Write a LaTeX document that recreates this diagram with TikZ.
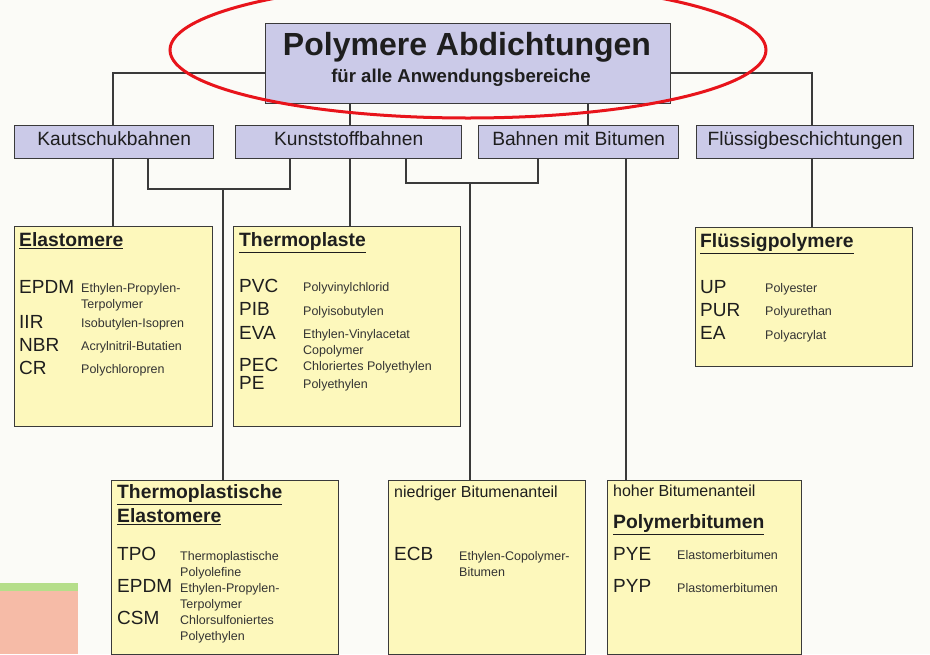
\documentclass[tikz,border=0pt]{standalone}
\usepackage{fontspec}
\setmainfont{Liberation Sans}
\definecolor{bg}{HTML}{FBFBF7}
\definecolor{lav}{HTML}{CBCAE8}
\definecolor{ylw}{HTML}{FDF8BC}
\definecolor{edge}{HTML}{3A3A3A}
\definecolor{txt}{HTML}{1E1E1E}
\definecolor{dtxt}{HTML}{333333}
\definecolor{redring}{HTML}{E8141B}
\definecolor{patchg}{HTML}{B5DE8A}
\definecolor{patchs}{HTML}{F6BBA7}
\newcommand\hul[1]{\leavevmode\vtop{\hbox{#1}\kern1.6pt\hrule height 1.2pt}}
\tikzset{
  catbox/.style={draw=edge, line width=1.4pt, fill=lav, anchor=north west, inner sep=0pt,
    text height=14pt, text depth=7pt,
    font=\fontsize{19.2}{20}\selectfont, text=txt},
  grpbox/.style={draw=edge, line width=1.4pt, fill=ylw, anchor=north west, inner sep=0pt},
  head/.style={anchor=base west, inner sep=0pt, font=\fontsize{19.3}{21}\selectfont\bfseries, text=txt},
  abbr/.style={anchor=base west, inner sep=0pt, font=\fontsize{19}{20}\selectfont, text=txt},
  desc/.style={anchor=base west, inner sep=0pt, font=\fontsize{12.5}{14}\selectfont, text=dtxt},
  note/.style={anchor=base west, inner sep=0pt, font=\fontsize{16}{18}\selectfont, text=txt},
  link/.style={draw=edge, line width=1.1pt}
}
\begin{document}
\begin{tikzpicture}[x=1pt,y=-1pt]
\useasboundingbox (0,0) rectangle (930,654);
\fill[bg] (0,0) rectangle (930,654);
% bottom-left patch
\fill[patchs] (0,590) rectangle (78,654);
\fill[patchg] (0,583) rectangle (78,591);

% title
\node[draw=edge, line width=1.4pt, fill=lav, anchor=north west, inner sep=0pt,
  minimum width=405, minimum height=80] (title) at (265,23) {};
\node[inner sep=0pt, anchor=base, font=\fontsize{32}{33}\selectfont\bfseries, text=txt] (t1) at (467,55) {Polymere Abdichtungen};
\node[inner sep=0pt, anchor=base, font=\fontsize{18.6}{20}\selectfont\bfseries, text=txt] (t2) at (461,82) {für alle Anwendungsbereiche};

% categories
\node[catbox, minimum width=199, minimum height=33] (kaut) at (14,125) {Kautschukbahnen};
\node[catbox, minimum width=226, minimum height=33] (kunst) at (235,125) {Kunststoffbahnen};
\node[catbox, minimum width=200, minimum height=33] (bit) at (478,125) {Bahnen mit Bitumen};
\node[catbox, minimum width=217, minimum height=33] (flues) at (696,125) {Flüssigbeschichtungen};

% group boxes
\node[grpbox, minimum width=198, minimum height=200] (elast) at (14,226) {};
\node[grpbox, minimum width=227, minimum height=200] (thermo) at (233,226) {};
\node[grpbox, minimum width=217, minimum height=139] (fpoly) at (695,227) {};
\node[grpbox, minimum width=227, minimum height=174] (tpe) at (111,480) {};
\node[grpbox, minimum width=197, minimum height=174] (nied) at (388,480) {};
\node[grpbox, minimum width=194, minimum height=174] (hoch) at (607,480) {};

% connectors
\coordinate (jl) at (113,73);
\coordinate (jr) at (812,73);
\draw[link] (title.west |- jl) -- (jl) -- (kaut.north -| jl);
\draw[link] (title.east |- jr) -- (jr) -- (flues.north -| jr);
\coordinate (c1) at (350,0);
\coordinate (c2) at (588,0);
\draw[link] (title.south -| c1) -- (kunst.north -| c1);
\draw[link] (title.south -| c2) -- (bit.north -| c2);
\draw[link] (kaut.south -| jl) -- (elast.north -| jl);
\draw[link] (kunst.south -| c1) -- (thermo.north -| c1);
\draw[link] (flues.south -| jr) -- (fpoly.north -| jr);
\coordinate (b1l) at (148,189);
\coordinate (b1r) at (290,189);
\coordinate (b1m) at (223,189);
\draw[link] (kaut.south -| b1l) -- (b1l) -- (b1r) -- (kunst.south -| b1r);
\draw[link] (b1m) -- (tpe.north -| b1m);
\coordinate (b2l) at (406,183);
\coordinate (b2r) at (538,183);
\coordinate (b2m) at (470,183);
\draw[link] (kunst.south -| b2l) -- (b2l) -- (b2r) -- (bit.south -| b2r);
\draw[link] (b2m) -- (nied.north -| b2m);
\coordinate (c3) at (626,0);
\draw[link] (bit.south -| c3) -- (hoch.north -| c3);

% Elastomere
\node[head] (eh) at (19,246) {\hul{Elastomere}};
\node[abbr] (ea1) at (19,293) {EPDM};
\node[desc] (ed1) at (81,292) {Ethylen-Propylen-};
\node[desc] (ed1b) at (81,308) {Terpolymer};
\node[abbr] (ea2) at (19,328) {IIR};
\node[desc] (ed2) at (81,327) {Isobutylen-Isopren};
\node[abbr] (ea3) at (19,351) {NBR};
\node[desc] (ed3) at (81,350) {Acrylnitril-Butatien};
\node[abbr] (ea4) at (19,374) {CR};
\node[desc] (ed4) at (81,373) {Polychloropren};

% Thermoplaste
\node[head] (th) at (239,246) {\hul{Thermoplaste}};
\node[abbr] (ta1) at (239,292) {PVC};
\node[desc] (td1) at (303,291) {Polyvinylchlorid};
\node[abbr] (ta2) at (239,315) {PIB};
\node[desc] (td2) at (303,315) {Polyisobutylen};
\node[abbr] (ta3) at (239,339) {EVA};
\node[desc] (td3) at (303,338) {Ethylen-Vinylacetat};
\node[desc] (td3b) at (303,354) {Copolymer};
\node[abbr] (ta4) at (239,371) {PEC};
\node[desc] (td4) at (303,370) {Chloriertes Polyethylen};
\node[abbr] (ta5) at (239,389) {PE};
\node[desc] (td5) at (303,388) {Polyethylen};

% Fluessigpolymere
\node[head] (fh) at (700,247) {\hul{Flüssigpolymere}};
\node[abbr] (fa1) at (700,293) {UP};
\node[desc] (fd1) at (765,292) {Polyester};
\node[abbr] (fa2) at (700,316) {PUR};
\node[desc] (fd2) at (765,315) {Polyurethan};
\node[abbr] (fa3) at (700,339) {EA};
\node[desc] (fd3) at (765,339) {Polyacrylat};

% Thermoplastische Elastomere
\node[head] (tph1) at (117,498) {\hul{Thermoplastische}};
\node[head] (tph2) at (117,522) {\hul{Elastomere}};
\node[abbr] (pa1) at (117,560) {TPO};
\node[desc] (pd1) at (180,560) {Thermoplastische};
\node[desc] (pd1b) at (180,576) {Polyolefine};
\node[abbr] (pa2) at (117,592) {EPDM};
\node[desc] (pd2) at (180,592) {Ethylen-Propylen-};
\node[desc] (pd2b) at (180,608) {Terpolymer};
\node[abbr] (pa3) at (117,624) {CSM};
\node[desc] (pd3) at (180,624) {Chlorsulfoniertes};
\node[desc] (pd3b) at (180,640) {Polyethylen};

% niedriger Bitumenanteil
\node[note] (nh) at (394,497) {niedriger Bitumenanteil};
\node[abbr] (na1) at (394,560) {ECB};
\node[desc] (nd1) at (459,560) {Ethylen-Copolymer-};
\node[desc] (nd1b) at (459,576) {Bitumen};

% hoher Bitumenanteil
\node[note] (hh) at (613,496) {hoher Bitumenanteil};
\node[head] (hh2) at (613,528) {\hul{Polymerbitumen}};
\node[abbr] (ha1) at (613,560) {PYE};
\node[desc] (hd1) at (677,559) {Elastomerbitumen};
\node[abbr] (ha2) at (613,592) {PYP};
\node[desc] (hd2) at (677,592) {Plastomerbitumen};

% red ring
\draw[redring, line width=3pt] (468,50) ellipse [x radius=298, y radius=68];
\end{tikzpicture}
\end{document}
